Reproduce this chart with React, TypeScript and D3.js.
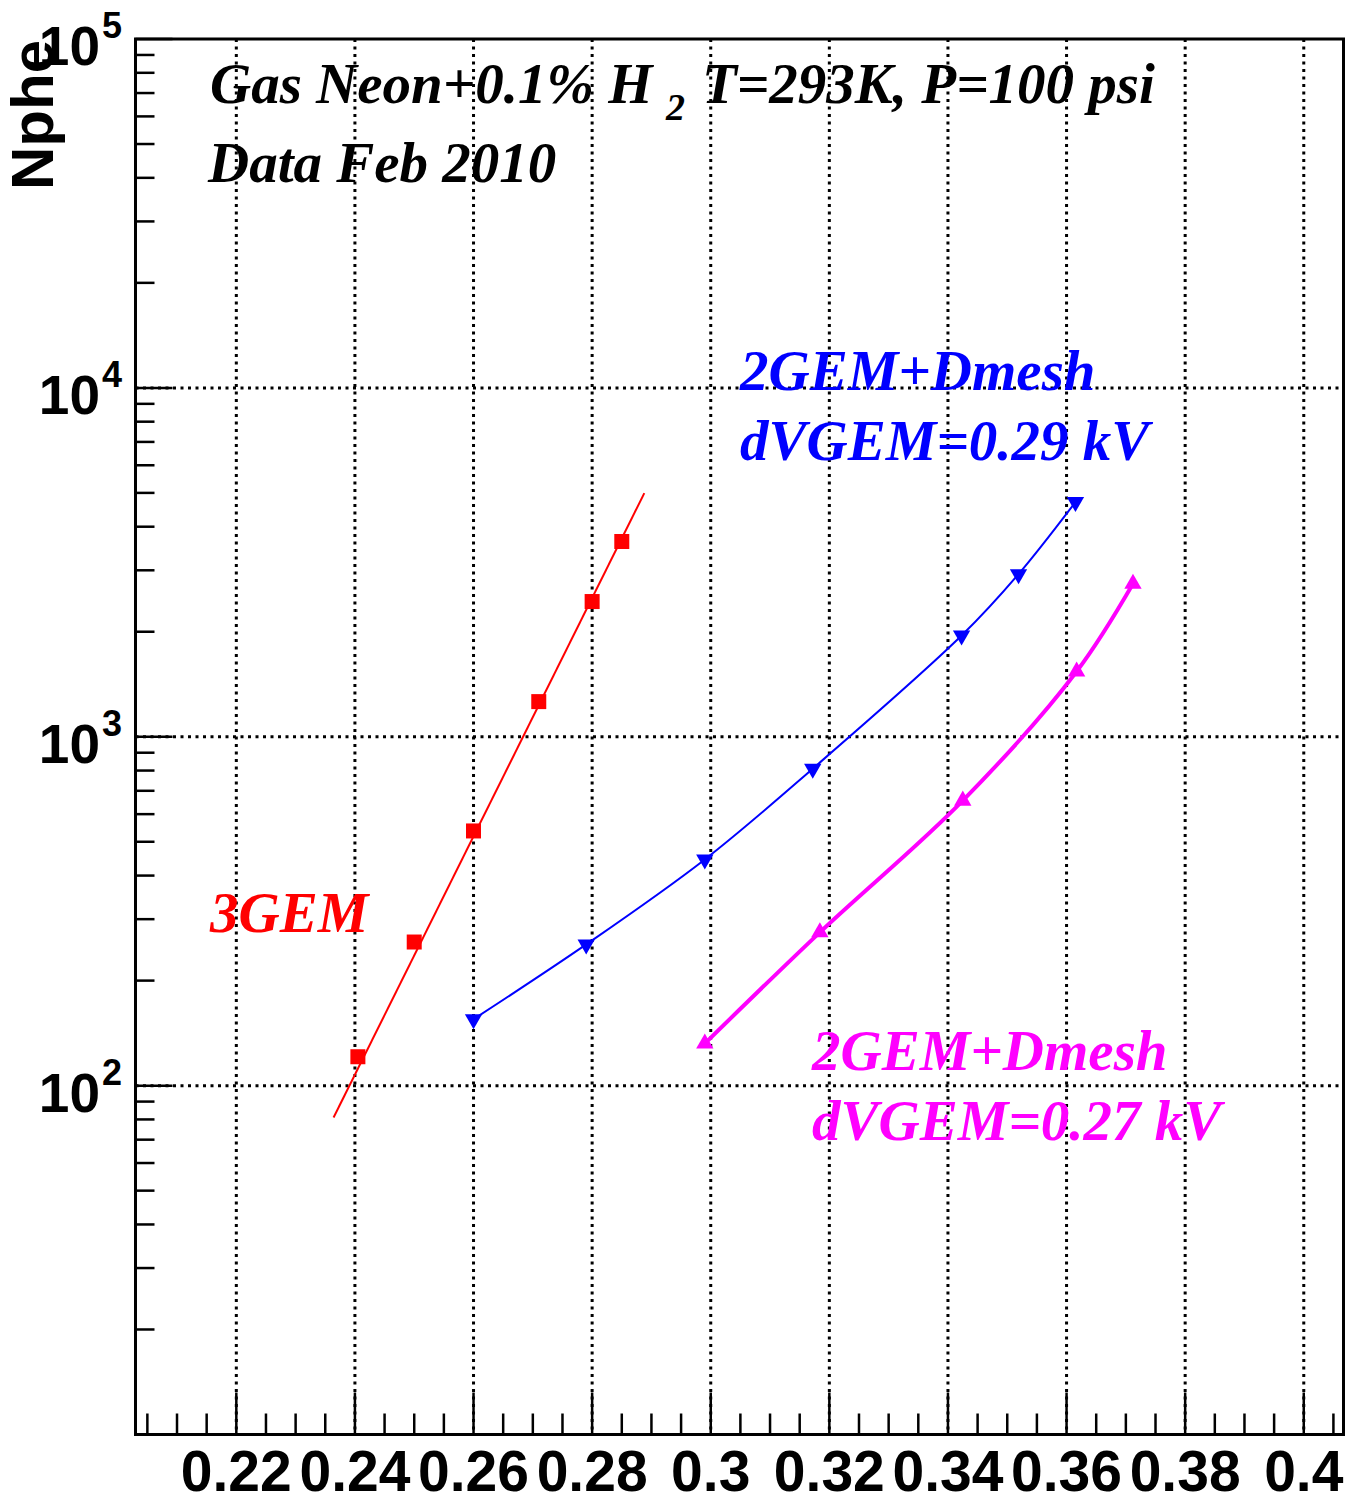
import * as d3 from 'd3'

// 3GEM (red squares) and its exponential fit
const gem3X = [0.2405, 0.250, 0.260, 0.271, 0.280, 0.285]
const gem3Y = [121, 258, 537, 1261, 2441, 3628]
const gem3FitX = [0.2364, 0.2888]
const gem3FitY = [81, 4994]

// 2GEM+Dmesh, dVGEM=0.29 kV (blue down triangles)
const dv29X = [0.260, 0.279, 0.299, 0.3172, 0.3423, 0.3519, 0.3615]
const dv29Y = [155, 254, 445, 810, 1950, 2925, 4707]

// 2GEM+Dmesh, dVGEM=0.27 kV (magenta up triangles)
const dv27X = [0.299, 0.3184, 0.3425, 0.3617, 0.3712]
const dv27Y = [132, 275, 656, 1538, 2744]

const xMajorTicks = [0.22, 0.24, 0.26, 0.28, 0.30, 0.32, 0.34, 0.36, 0.38, 0.40]
const xTickLabels = ['0.22', '0.24', '0.26', '0.28', '0.3', '0.32', '0.34', '0.36', '0.38', '0.4']
const yDecades = [10, 100, 1000, 10000, 100000]
const yExponents = ['1', '2', '3', '4', '5']

const W = 1345
const H = 1504
const left = 135.5
const right = 1343.5
const top = 39
const bottom = 1434.5

const serif = '"Liberation Serif", "Times New Roman", serif'
const sans = '"Liberation Sans", Arial, sans-serif'

export default function App() {
  const x = d3.scaleLinear().domain([0.2030, 0.4067]).range([left, right])
  const y = d3.scaleLog().domain([10, 100000]).range([bottom, top])

  const xMinor = d3.range(0, 41).map(i => 0.205 + i * 0.005)
    .filter(v => !xMajorTicks.some(m => Math.abs(m - v) < 1e-6) && x(v) < right - 2)
  const yMinor: number[] = []
  yDecades.slice(0, -1).forEach(d => { for (let k = 2; k <= 9; k++) yMinor.push(d * k) })

  const straight = d3.line<[number, number]>().x(d => x(d[0])).y(d => y(d[1]))
  const smooth = d3.line<[number, number]>().x(d => x(d[0])).y(d => y(d[1])).curve(d3.curveCatmullRom.alpha(0.5))

  const zip = (a: number[], b: number[]) => a.map((v, i) => [v, b[i]] as [number, number])

  const square = d3.symbol().type(d3.symbolSquare).size(225)()
  const tri = d3.symbol().type(d3.symbolTriangle).size(130)()

  const grid = { stroke: '#000', strokeWidth: 3, strokeDasharray: '3 4.5' }

  return (
    <svg width={W} height={H} style={{ position: 'absolute', left: 0, top: 0, background: '#fff' }}>
      <rect x={0} y={0} width={W} height={H} fill="#fff" />

      {/* grid */}
      {xMajorTicks.map(v => (
        <line key={'gx' + v} x1={x(v)} x2={x(v)} y1={top} y2={bottom} {...grid} />
      ))}
      {yDecades.slice(1, -1).map(v => (
        <line key={'gy' + v} x1={left} x2={right} y1={y(v)} y2={y(v)} {...grid} />
      ))}

      {/* x ticks */}
      {xMajorTicks.map(v => (
        <line key={'xt' + v} x1={x(v)} x2={x(v)} y1={bottom} y2={bottom - 42} stroke="#000" strokeWidth={2.5} />
      ))}
      {xMinor.map(v => (
        <line key={'xm' + v} x1={x(v)} x2={x(v)} y1={bottom} y2={bottom - 21} stroke="#000" strokeWidth={2.5} />
      ))}

      {/* y ticks */}
      {yDecades.map(v => (
        <line key={'yt' + v} x1={left} x2={left + 37} y1={y(v)} y2={y(v)} stroke="#000" strokeWidth={2.5} />
      ))}
      {yMinor.map(v => (
        <line key={'ym' + v} x1={left} x2={left + 19} y1={y(v)} y2={y(v)} stroke="#000" strokeWidth={2.5} />
      ))}

      {/* frame */}
      <rect x={left} y={top} width={right - left} height={bottom - top} fill="none" stroke="#000" strokeWidth={3} />

      {/* x labels */}
      {xMajorTicks.map((v, i) => (
        <text key={'xl' + v} x={x(v)} y={1491} textAnchor="middle" fontFamily={sans} fontWeight="bold" fontSize={57}>
          {xTickLabels[i]}
        </text>
      ))}

      {/* y labels */}
      {yDecades.slice(1).map((v, i) => (
        <g key={'yl' + v}>
          <text x={100} y={y(v) + 26} textAnchor="end" fontFamily={sans} fontWeight="bold" fontSize={55}>10</text>
          <text x={102} y={y(v) - 1} fontFamily={sans} fontWeight="bold" fontSize={36}>{yExponents[i + 1]}</text>
        </g>
      ))}

      <text transform="translate(53,40) rotate(-90)" textAnchor="end" fontFamily={sans} fontWeight="bold" fontSize={60}>Nphe</text>

      {/* series */}
      <path d={straight(zip(gem3FitX, gem3FitY)) ?? ''} fill="none" stroke="#ff0000" strokeWidth={2} />
      {gem3X.map((v, i) => (
        <path key={'r' + i} d={square ?? ''} transform={`translate(${x(v)},${y(gem3Y[i])})`} fill="#ff0000" />
      ))}

      <path d={smooth(zip(dv29X, dv29Y)) ?? ''} fill="none" stroke="#0000ff" strokeWidth={2} />
      {dv29X.map((v, i) => (
        <path key={'b' + i} d={tri ?? ''} transform={`translate(${x(v)},${y(dv29Y[i])}) rotate(180)`} fill="#0000ff" />
      ))}

      <path d={smooth(zip(dv27X, dv27Y)) ?? ''} fill="none" stroke="#ff00ff" strokeWidth={4} />
      {dv27X.map((v, i) => (
        <path key={'m' + i} d={tri ?? ''} transform={`translate(${x(v)},${y(dv27Y[i])})`} fill="#ff00ff" />
      ))}

      {/* annotations */}
      <g fontFamily={serif} fontWeight="bold" fontStyle="italic" fontSize={57}>
        <text x={210} y={103}>Gas Neon+0.1% H</text>
        <text x={666} y={120} fontSize={38}>2</text>
        <text x={702} y={103}>T=293K, P=100 psi</text>
        <text x={208} y={182}>Data Feb 2010</text>
        <text x={210} y={932} fill="#ff0000">3GEM</text>
        <text x={740} y={390} fill="#0000ff">2GEM+Dmesh</text>
        <text x={740} y={460} fill="#0000ff">dVGEM=0.29 kV</text>
        <text x={812} y={1070} fill="#ff00ff">2GEM+Dmesh</text>
        <text x={812} y={1140} fill="#ff00ff">dVGEM=0.27 kV</text>
      </g>
    </svg>
  )
}
